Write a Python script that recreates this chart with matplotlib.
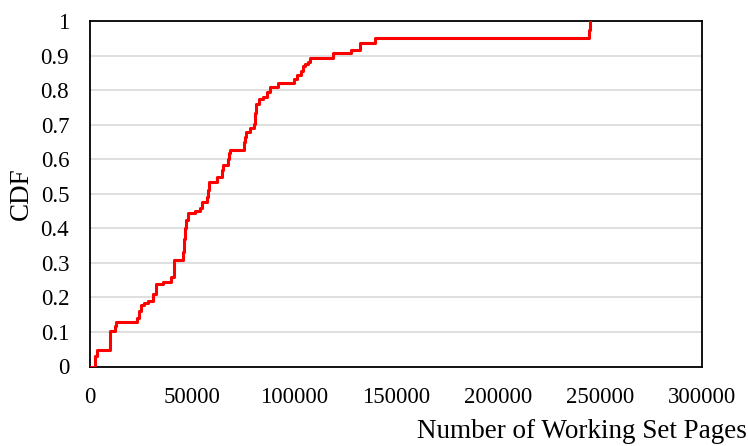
import numpy as np
import matplotlib
matplotlib.use('Agg')
import matplotlib.pyplot as plt

# step points of the CDF
pages = [0, 2450, 3400, 9800, 12300, 12700, 22900, 24200, 25000, 26600,
         28400, 30900, 32400, 35800, 39700, 41200, 45600, 46100, 46600, 47100,
         48000, 51500, 53900, 54900, 57400, 57900, 58300, 62100, 64600, 65200,
         67600, 68100, 68600, 75500, 76000, 76500, 78400, 80400, 80900, 81400,
         82800, 84800, 86600, 88200, 92300, 100000, 101500, 103400, 104400, 105400,
         106900, 107800, 119300, 127800, 132400, 139700, 244600, 245300]
cdf = [0, 0.03, 0.047, 0.104, 0.116, 0.13, 0.139, 0.162, 0.177, 0.183,
       0.19, 0.21, 0.238, 0.246, 0.258, 0.307, 0.33, 0.37, 0.40, 0.425,
       0.443, 0.45, 0.46, 0.476, 0.49, 0.51, 0.534, 0.549, 0.568, 0.583,
       0.60, 0.618, 0.627, 0.65, 0.665, 0.679, 0.689, 0.703, 0.735, 0.761,
       0.773, 0.78, 0.795, 0.81, 0.821, 0.832, 0.843, 0.855, 0.87, 0.876,
       0.882, 0.892, 0.906, 0.917, 0.937, 0.952, 0.975, 1.0]

xticks = [0, 50000, 100000, 150000, 200000, 250000, 300000]
yticks = [0, 0.1, 0.2, 0.3, 0.4, 0.5, 0.6, 0.7, 0.8, 0.9, 1]
ytick_labels = ['0', '0.1', '0.2', '0.3', '0.4', '0.5', '0.6', '0.7', '0.8', '0.9', '1']

plt.rcParams['font.family'] = ['Liberation Serif', 'DejaVu Serif']
plt.rcParams['font.size'] = 16

fig = plt.figure(figsize=(7.48, 4.46), dpi=100)
ax = fig.add_axes([90/748, 1-366.5/446, 612/748, 345.5/446])

ax.plot(pages, cdf, color='#ff0000', linewidth=2.2, drawstyle='steps-post',
        zorder=3)

ax.set_xlim(0, 300000)
ax.set_ylim(0, 1)
ax.set_xticks(xticks)
ax.set_xticklabels([str(t) for t in xticks])
ax.set_yticks(yticks)
ax.set_yticklabels(ytick_labels)
ax.tick_params(axis='both', length=0, labelsize=16.5)
ax.tick_params(axis='x', pad=15)
ax.tick_params(axis='y', pad=15)

ax.yaxis.grid(True, color='#d9d9d9', linewidth=1.2)
ax.set_axisbelow(True)
for s in ax.spines.values():
    s.set_color('black')
    s.set_linewidth(1.3)

ax.set_xlabel('Number of Working Set Pages', fontsize=19.5, ha='right', va='center')
ax.xaxis.set_label_coords((747-90)/612, (366-431)/345)
ax.set_ylabel('CDF', fontsize=19.5, va='center')
ax.yaxis.set_label_coords((21-90)/612, 0.5)

fig.savefig('out.png', dpi=100)
